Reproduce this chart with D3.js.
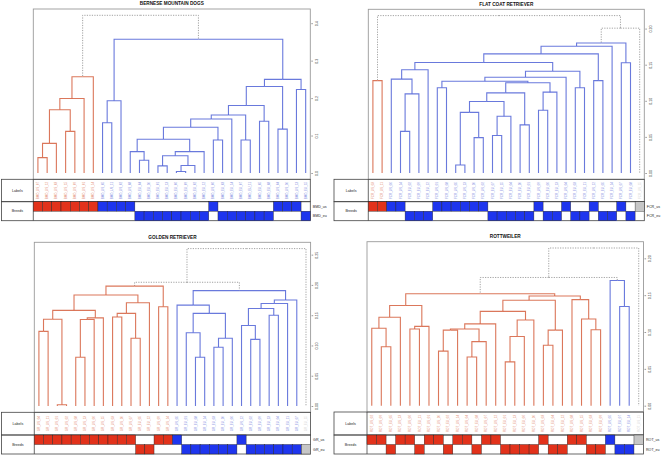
<!DOCTYPE html>
<html><head><meta charset="utf-8">
<script src="https://cdn.jsdelivr.net/npm/d3@7"></script>
<style>body{margin:0;background:#fff} svg{display:block;font-family:"Liberation Sans",Arial,sans-serif}</style>
</head><body><svg id="c" width="662" height="455"></svg>
<script>
// ---------- BERNESE MOUNTAIN DOGS ----------
const bmdLabels = ["BMD_US_07","BMD_US_12","BMD_US_03","BMD_US_15","BMD_US_09","BMD_US_01","BMD_US_14","BMD_US_05","BMD_US_11","BMD_US_02","BMD_US_08",
  "BMD_EU_04","BMD_EU_10","BMD_EU_01","BMD_EU_13","BMD_EU_06","BMD_EU_09","BMD_EU_02","BMD_EU_12","BMD_US_06",
  "BMD_EU_03","BMD_EU_14","BMD_EU_07","BMD_EU_11","BMD_EU_05","BMD_EU_08","BMD_US_04","BMD_US_10","BMD_US_13","BMD_EU_15"];
const bmdCluster = [1,1,1,1,1,1,1,2,2,2,2,2,2,2,2,2,2,2,2,2,2,2,2,2,2,2,2,2,2,2];
const bmdMerge = [[-1,-2],[1,-3],[-4,-5],[2,3],[4,-6],[5,-7],[-8,-9],[7,-10],[-12,-13],[-11,9],
  [-14,-15],[-16,-17],[12,-18],[11,13],[14,-19],[10,15],[-20,-21],[16,17],[18,-22],[-23,-24],
  [19,20],[-25,-26],[21,22],[-27,-28],[23,24],[-29,-30],[25,26],[8,27],[6,28]];
const bmdHeight = [0.041,0.079,0.111,0.169,0.199,0.257,0.134,0.193,0.034,0.057,
  0.019,0.004,0.020,0.046,0.057,0.090,0.088,0.122,0.144,0.088,
  0.155,0.138,0.180,0.117,0.231,0.223,0.250,0.357,0.421];
const bmdTicks = [0,0.1,0.2,0.3,0.4];
const bmdRows = ["BMD_us","BMD_eu"];

// ---------- FLAT COAT RETRIEVER ----------
const fcrLabels = ["FCR_US_03","FCR_US_11","FCR_US_06","FCR_US_14","FCR_EU_02","FCR_EU_09","FCR_EU_12","FCR_US_01","FCR_US_08","FCR_US_05",
  "FCR_US_13","FCR_US_10","FCR_US_02","FCR_EU_07","FCR_EU_15","FCR_EU_04","FCR_EU_10","FCR_EU_01","FCR_US_09","FCR_EU_06",
  "FCR_EU_13","FCR_US_04","FCR_EU_03","FCR_EU_11","FCR_US_12","FCR_EU_05","FCR_EU_14","FCR_US_07","FCR_EU_08","FCR_US_15"];
const fcrCluster = [1,1,2,2,2,2,2,2,2,2,2,2,2,2,2,2,2,2,2,2,2,2,2,2,2,2,2,2,2,0];
const fcrMerge = [[-1,-2],[-4,-5],[2,-6],[-3,3],[4,-7],[-8,-9],[-10,-11],[-12,-13],[7,8],[-14,-15],
  [10,-16],[9,11],[-17,-18],[12,13],[-19,-20],[15,-21],[14,16],[6,17],[18,-22],[-23,-24],
  [19,20],[5,21],[-25,-26],[22,23],[24,-27],[-28,-29],[25,26],[27,-30],[1,28]];
const fcrHeight = [0.128,0.0577,0.1096,0.130,0.143,0.118,0.011,0.049,0.084,0.052,
  0.0785,0.099,0.0666,0.111,0.087,0.112,0.125,0.127,0.1326,0.118,
  0.141,0.153,0.128,0.165,0.1756,0.1526,0.180,0.2006,0.218];
const fcrTicks = [0,0.05,0.10,0.15,0.20];
const fcrRows = ["FCR_us","FCR_eu"];

// ---------- GOLDEN RETRIEVER ----------
const grLabels = ["GR_US_04","GR_US_11","GR_US_01","GR_US_02","GR_US_08","GR_US_13","GR_US_06","GR_US_15","GR_US_03","GR_US_10",
  "GR_US_07","GR_EU_05","GR_EU_12","GR_US_09","GR_US_14","GR_US_05","GR_EU_01","GR_EU_08","GR_EU_14","GR_EU_03",
  "GR_EU_10","GR_EU_06","GR_US_12","GR_EU_02","GR_EU_09","GR_EU_13","GR_EU_04","GR_EU_11","GR_EU_07","GR_EU_15"];
const grCluster = [1,1,1,1,1,1,1,1,1,1,1,1,1,1,1,2,2,2,2,2,2,2,2,2,2,2,2,2,2,0];
const grMerge = [[-1,-2],[-3,-4],[1,2],[-5,-6],[4,-7],[5,-8],[3,6],[-9,-10],[-11,-12],[8,9],
  [10,-13],[7,11],[-14,-15],[12,13],[-18,-19],[-17,15],[-20,-21],[17,-22],[16,18],[-16,19],
  [-24,-25],[-23,21],[-26,-27],[22,23],[24,-28],[25,-29],[20,26],[14,27],[28,-30]];
const grHeight = [0.1233,0.002,0.1433,0.0806,0.1428,0.1456,0.158,0.147,0.112,0.153,
  0.1706,0.1833,0.164,0.198,0.0806,0.121,0.097,0.112,0.153,0.1667,
  0.110,0.133,0.150,0.161,0.1694,0.175,0.1906,0.2044,0.260];
const grTicks = [0,0.05,0.10,0.15,0.20,0.25];
const grRows = ["GR_us","GR_eu"];

// ---------- ROTTWEILER ----------
const rotLabels = ["ROT_US_02","ROT_US_09","ROT_EU_05","ROT_US_13","ROT_US_06","ROT_EU_11","ROT_US_01","ROT_US_10","ROT_EU_02","ROT_US_14",
  "ROT_US_04","ROT_EU_08","ROT_US_07","ROT_US_12","ROT_EU_01","ROT_EU_13","ROT_EU_06","ROT_EU_10","ROT_US_03","ROT_EU_04",
  "ROT_EU_12","ROT_US_08","ROT_US_15","ROT_EU_03","ROT_EU_09","ROT_US_05","ROT_EU_07","ROT_EU_14","ROT_US_11"];
const rotCluster = [1,1,1,1,1,1,1,1,1,1,1,1,1,1,1,1,1,1,1,1,1,1,1,1,1,2,2,2,0];
const rotMerge = [[-2,-3],[-1,1],[2,-4],[-5,-6],[4,-7],[3,5],[-8,-9],[7,-10],[-11,-12],[9,-13],
  [8,10],[11,-14],[-15,-16],[13,-17],[14,-18],[12,15],[-19,-20],[17,-21],[16,18],[-24,-25],
  [-23,20],[-22,21],[19,22],[6,23],[-27,-28],[-26,25],[24,26],[27,-29]];
const rotHeight = [0.080,0.105,0.120,0.104,0.1076,0.136,0.074,0.1026,0.066,0.087,
  0.104,0.111,0.0595,0.094,0.1163,0.128,0.082,0.1026,0.143,0.103,
  0.1177,0.144,0.1488,0.152,0.1346,0.170,0.174,0.214];
const rotTicks = [0,0.05,0.10,0.15,0.20];
const rotRows = ["ROT_us","ROT_eu"];

// ---------- layout ----------
const panels = [
  {title:"BERNESE MOUNTAIN DOGS", labels:bmdLabels, cluster:bmdCluster, merge:bmdMerge, height:bmdHeight, ticks:bmdTicks, fmt:".1f", rows:bmdRows,
   box:{x0:1.5,left:33.3,right:310.3,top:9,bottom:179.3,lab:201.7,brd:220.7}},
  {title:"FLAT COAT RETRIEVER", labels:fcrLabels, cluster:fcrCluster, merge:fcrMerge, height:fcrHeight, ticks:fcrTicks, fmt:".2f", rows:fcrRows,
   box:{x0:334,left:368.3,right:644.3,top:9.3,bottom:179.3,lab:201.7,brd:220.7}},
  {title:"GOLDEN RETRIEVER", labels:grLabels, cluster:grCluster, merge:grMerge, height:grHeight, ticks:grTicks, fmt:".2f", rows:grRows,
   box:{x0:1.5,left:34.3,right:310.6,top:242.3,bottom:412.3,lab:435,brd:454}},
  {title:"ROTTWEILER", labels:rotLabels, cluster:rotCluster, merge:rotMerge, height:rotHeight, ticks:rotTicks, fmt:".2f", rows:rotRows,
   box:{x0:334,left:367,right:643.5,top:241.7,bottom:412,lab:435,brd:454}}
];

const lineColor = {1:"#d55f3e", 2:"#4f61d6"};
const barColor = {1:"#e2321b", 2:"#1e35ee", 0:"#c6c6c6"};
const labColor = {1:"#e38a70", 2:"#7c89e0", 0:"#d4d4d4"};

const svg = d3.select("#c");

function draw(p){
  const g = svg.append("g");
  const n = p.labels.length;
  const b = p.box;
  const xb = d3.scaleBand().domain(d3.range(n)).range([b.left, b.right]);
  const bw = xb.bandwidth();
  const maxH = d3.max(p.height);
  const y = d3.scaleLinear().domain([-0.04*maxH, 1.04*maxH]).range([b.bottom, b.top]);

  // title
  g.append("text").attr("x",(b.left+b.right)/2).attr("y",b.top-3.8).attr("text-anchor","middle")
    .attr("font-size",4.7).attr("font-weight","bold").attr("fill","#111").text(p.title);

  // dendrogram box
  g.append("rect").attr("x",b.left).attr("y",b.top).attr("width",b.right-b.left).attr("height",b.bottom-b.top)
    .attr("fill","none").attr("stroke","#9a9a9a").attr("stroke-width",0.9);

  // nodes
  const nodeX = [], nodeC = [];
  const ref = v => v < 0 ? {x: xb(-v-1)+bw/2, h: 0, c: p.cluster[-v-1]}
                         : {x: nodeX[v-1], h: p.height[v-1], c: nodeC[v-1]};
  p.merge.forEach(([a,c],k) => {
    const A = ref(a), B = ref(c);
    nodeX[k] = (A.x + B.x)/2;
    nodeC[k] = (A.c === B.c && A.c > 0) ? A.c : 0;
  });
  const links = [];
  p.merge.forEach(([a,c],k) => {
    [a,c].forEach(v => {
      const C = ref(v);
      links.push({px:nodeX[k], py:y(p.height[k]), cx:C.x, cy:y(C.h), col:nodeC[k]});
    });
  });
  g.append("g").selectAll("path").data(links.filter(d=>d.col===0)).join("path")
    .attr("d", d => `M${d.px},${d.py}H${d.cx}V${d.cy}`)
    .attr("fill","none").attr("stroke","#8a8a8a").attr("stroke-width",0.8).attr("stroke-dasharray","1.2,1.3");
  g.append("g").selectAll("path").data(links.filter(d=>d.col>0)).join("path")
    .attr("d", d => `M${d.px},${d.py}H${d.cx}V${d.cy}`)
    .attr("fill","none").attr("stroke", d => lineColor[d.col]).attr("stroke-opacity",0.85).attr("stroke-width",1.1);

  // axis on right
  const ax = g.append("g").attr("transform",`translate(${b.right+1},0)`)
    .call(d3.axisRight(y).tickValues(p.ticks).tickSize(1.6).tickFormat(d3.format(p.fmt)));
  ax.select(".domain").remove();
  ax.selectAll("line").attr("stroke","#555").attr("stroke-width",0.6);
  ax.selectAll("text").attr("x",0).attr("dy",0).attr("transform","translate(6.2,0) rotate(-90)")
    .attr("text-anchor","middle").attr("font-size",3.6).attr("fill","#333");

  // Labels / Breeds rows
  const dk = "#444";
  g.append("rect").attr("x",b.x0).attr("y",b.bottom).attr("width",b.right-b.x0).attr("height",b.lab-b.bottom)
    .attr("fill","none").attr("stroke",dk).attr("stroke-width",0.8);
  g.append("rect").attr("x",b.x0).attr("y",b.lab).attr("width",b.right-b.x0).attr("height",b.brd-b.lab)
    .attr("fill","none").attr("stroke",dk).attr("stroke-width",0.8);
  g.append("line").attr("x1",b.left).attr("x2",b.left).attr("y1",b.bottom).attr("y2",b.brd).attr("stroke",dk).attr("stroke-width",0.8);
  g.append("text").attr("x",(b.x0+b.left)/2).attr("y",(b.bottom+b.lab)/2).attr("dy","0.35em").attr("text-anchor","middle")
    .attr("font-size",3.6).attr("fill","#222").text("Labels");
  g.append("text").attr("x",(b.x0+b.left)/2).attr("y",(b.lab+b.brd)/2).attr("dy","0.35em").attr("text-anchor","middle")
    .attr("font-size",3.6).attr("fill","#222").text("Breeds");

  // leaf labels
  const my = (b.bottom+b.lab)/2;
  g.append("g").selectAll("text").data(p.labels).join("text")
    .attr("transform",(d,i)=>`translate(${xb(i)+bw/2},${my}) rotate(-90)`)
    .attr("text-anchor","middle").attr("dy","0.35em").attr("font-size",3)
    .attr("fill",(d,i)=>labColor[p.cluster[i]]).text(d=>d);

  // breed bars
  const rh = (b.brd-b.lab)/2;
  const leaves = p.labels.map((d,i)=>({i, row: d.includes("_US_") ? 0 : 1, c: p.cluster[i]}));
  g.append("g").selectAll("rect").data(leaves).join("rect")
    .attr("x",d=>xb(d.i)).attr("y",d=>b.lab+d.row*rh).attr("width",bw).attr("height",rh)
    .attr("fill",d=>barColor[d.c]).attr("stroke","#222").attr("stroke-width",0.4);
  p.rows.forEach((r,j)=>{
    g.append("text").attr("x",b.right+2.5).attr("y",b.lab+rh*(j+0.5)).attr("dy","0.35em")
      .attr("font-size",3.6).attr("fill","#222").text(r);
  });
}
panels.forEach(draw);
</script>
</body></html>
